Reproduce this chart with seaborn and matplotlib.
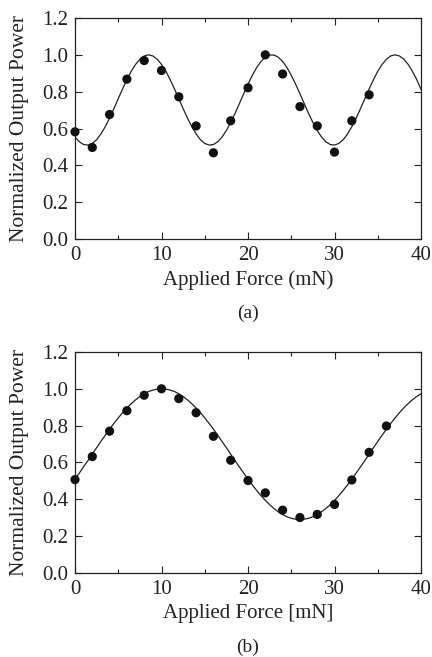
import numpy as np
import pandas as pd
import matplotlib
matplotlib.use("Agg")
import matplotlib.pyplot as plt
import seaborn as sns
from matplotlib.ticker import MultipleLocator

# ---- data ----
force_pts_a = [0, 2, 4, 6, 8, 10, 12, 14, 16, 18, 20, 22, 24, 26, 28, 30, 32, 34]
power_pts_a = [0.582, 0.497, 0.676, 0.868, 0.969, 0.915, 0.772, 0.614, 0.468,
               0.642, 0.821, 1.000, 0.896, 0.719, 0.614, 0.472, 0.642, 0.783]

# fitted curves, every 0.5 mN
curve_x = [i * 0.5 for i in range(81)]
curve_a = [0.554, 0.528, 0.513, 0.510, 0.519, 0.539, 0.571, 0.610, 0.657, 0.708,
           0.762, 0.815, 0.865, 0.911, 0.948, 0.976, 0.994, 1.000, 0.994, 0.976,
           0.948, 0.911, 0.865, 0.815, 0.762, 0.708, 0.657, 0.610, 0.571, 0.539,
           0.519, 0.510, 0.513, 0.528, 0.554, 0.589, 0.633, 0.682, 0.735, 0.789,
           0.841, 0.889, 0.931, 0.964, 0.987, 0.999, 0.999, 0.987, 0.964, 0.931,
           0.889, 0.841, 0.789, 0.735, 0.682, 0.633, 0.589, 0.554, 0.528, 0.513,
           0.510, 0.519, 0.539, 0.570, 0.610, 0.656, 0.708, 0.761, 0.815, 0.865,
           0.911, 0.948, 0.976, 0.994, 1.000, 0.994, 0.977, 0.949, 0.911, 0.866,
           0.812]

force_pts_b = [0, 2, 4, 6, 8, 10, 12, 14, 16, 18, 20, 22, 24, 26, 28, 30, 32, 34, 36]
power_pts_b = [0.507, 0.632, 0.770, 0.881, 0.965, 1.000, 0.947, 0.870, 0.742,
               0.612, 0.502, 0.435, 0.341, 0.301, 0.318, 0.372, 0.505, 0.655, 0.798]

curve_b = [0.512, 0.542, 0.578, 0.610, 0.647, 0.680, 0.715, 0.748, 0.781, 0.812,
           0.842, 0.870, 0.896, 0.919, 0.940, 0.958, 0.973, 0.985, 0.993, 0.998,
           1.000, 0.998, 0.993, 0.985, 0.973, 0.958, 0.940, 0.919, 0.896, 0.870,
           0.842, 0.812, 0.781, 0.748, 0.714, 0.680, 0.645, 0.610, 0.576, 0.542,
           0.509, 0.478, 0.448, 0.420, 0.394, 0.371, 0.350, 0.332, 0.317, 0.305,
           0.297, 0.292, 0.290, 0.292, 0.297, 0.305, 0.317, 0.332, 0.350, 0.371,
           0.394, 0.420, 0.448, 0.478, 0.509, 0.542, 0.576, 0.610, 0.645, 0.680,
           0.714, 0.748, 0.781, 0.812, 0.842, 0.870, 0.896, 0.919, 0.940, 0.958,
           0.973]

x_ticks = [0, 10, 20, 30, 40]
y_ticks = [0.0, 0.2, 0.4, 0.6, 0.8, 1.0, 1.2]
xlabels = ["Applied Force (mN)", "Applied Force [mN]"]
ylabel = "Normalized Output Power"
captions = ["(a)", "(b)"]

sns.set_style("ticks")
plt.rcParams["font.family"] = ["Liberation Serif", "DejaVu Serif"]

fig = plt.figure(figsize=(4.32, 6.57), dpi=100)
ax_a = fig.add_axes([0.1736, 0.6362, 0.801, 0.3364])
ax_b = fig.add_axes([0.1736, 0.1279, 0.801, 0.3364])

panels = [
    (ax_a, force_pts_a, power_pts_a, curve_a),
    (ax_b, force_pts_b, power_pts_b, curve_b),
]

for i, (ax, fx, fy, cy) in enumerate(panels):
    df_c = pd.DataFrame({"x": curve_x, "y": cy})
    df_p = pd.DataFrame({"x": fx, "y": fy})
    sns.lineplot(data=df_c, x="x", y="y", ax=ax, color="#222222", linewidth=0.9)
    sns.scatterplot(data=df_p, x="x", y="y", ax=ax, color="#111111", s=44,
                    edgecolor="none", zorder=5, clip_on=False)
    ax.set_xlim(0, 40)
    ax.set_ylim(0, 1.2)
    ax.set_xticks(x_ticks)
    ax.set_xticklabels([str(v) for v in x_ticks])
    ax.xaxis.set_minor_locator(MultipleLocator(5))
    ax.set_yticks(y_ticks)
    ax.set_yticklabels([f"{v:.1f}" for v in y_ticks])
    ax.tick_params(which="major", direction="in", length=5, width=0.8,
                   top=True, right=True, labelsize=15, colors="#222222")
    ax.tick_params(which="minor", direction="in", length=3, width=0.8,
                   top=True, right=True, colors="#222222")
    ax.tick_params(axis="x", which="major", pad=5)
    ax.tick_params(axis="y", which="major", pad=5)
    for sp in ax.spines.values():
        sp.set_linewidth(0.9)
        sp.set_color("#222222")
    ax.set_xlabel(xlabels[i], fontsize=15, color="#222222", labelpad=4)
    ax.set_ylabel(ylabel, fontsize=15.5, color="#222222", labelpad=9)
    ax.text(0.5, -0.335, captions[i], transform=ax.transAxes, ha="center",
            va="center", fontsize=14, color="#222222")

fig.savefig("out.png", dpi=100)
